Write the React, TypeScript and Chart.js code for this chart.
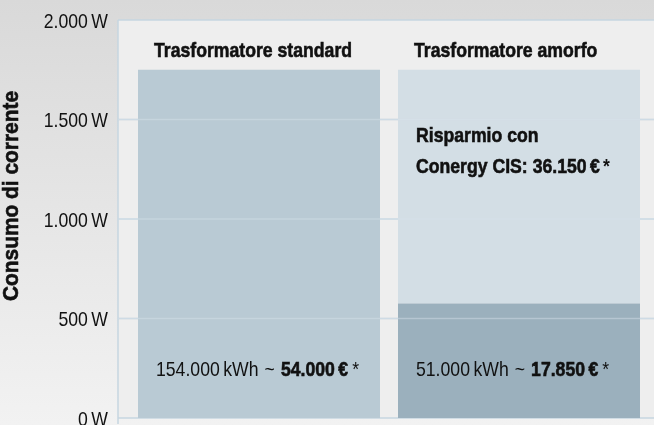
import React, { useEffect, useRef } from "react";
import { Chart, registerables } from "chart.js";

Chart.register(...registerables);

const categories = ["Trasformatore standard", "Trasformatore amorfo"];
const consumption = [1750, 575];
const savings = [0, 1175];
const energyLabels = ["154.000\u2009kWh", "51.000\u2009kWh"];
const costLabels = ["54.000\u2009€", "17.850\u2009€"];
const savingsLines = ["Risparmio con", "Conergy CIS: 36.150\u2009€"];
const yTicks = [0, 500, 1000, 1500, 2000];
const yTickLabels = ["0\u2009W", "500\u2009W", "1.000\u2009W", "1.500\u2009W", "2.000\u2009W"];
const yTitle = "Consumo di corrente";

const FONT = "'Liberation Sans', Arial, sans-serif";
const SX = 0.84;
const PLOT_LEFT = 118;
const GRID = "#c6d6e0";

function drawText(ctx: any, text: string, x: number, y: number, font: string, align: string, sx = SX, heavy = false) {
  ctx.save();
  ctx.font = font;
  ctx.textAlign = align;
  ctx.translate(x, y);
  ctx.scale(sx, 1);
  ctx.fillText(text, 0, 0);
  if (heavy) {
    ctx.strokeStyle = ctx.fillStyle;
    ctx.lineWidth = 0.6;
    ctx.strokeText(text, 0, 0);
  }
  const w = ctx.measureText(text).width * sx;
  ctx.restore();
  return w;
}

export default function App() {
  const ref = useRef<HTMLCanvasElement | null>(null);

  useEffect(() => {
    document.body.style.margin = "0";
    const canvas = ref.current;
    if (!canvas) return;

    const decor = {
      id: "decor",
      beforeDraw(chart: any) {
        const { ctx, width, height, chartArea, scales } = chart;
        ctx.save();
        const g = ctx.createLinearGradient(0, 0, 0, height);
        g.addColorStop(0, "#d9d9d9");
        g.addColorStop(1, "#f2f2f2");
        ctx.fillStyle = g;
        ctx.fillRect(0, 0, width, height);
        ctx.fillStyle = "#eeeeee";
        ctx.fillRect(PLOT_LEFT, chartArea.top, width - PLOT_LEFT, chartArea.bottom - chartArea.top);
        ctx.strokeStyle = GRID;
        ctx.lineWidth = 1.5;
        yTicks.forEach((v) => {
          const y = scales.y.getPixelForValue(v);
          ctx.beginPath();
          ctx.moveTo(PLOT_LEFT, y);
          ctx.lineTo(width, y);
          ctx.stroke();
        });
        ctx.beginPath();
        ctx.moveTo(PLOT_LEFT, chartArea.top);
        ctx.lineTo(PLOT_LEFT, chartArea.bottom + 6);
        ctx.stroke();
        ctx.fillStyle = "#111";
        ctx.textBaseline = "middle";
        yTicks.forEach((v, i) => {
          const y = scales.y.getPixelForValue(v);
          drawText(ctx, yTickLabels[i], 108, y + 2, `21px ${FONT}`, "right");
        });
        ctx.translate(12, 196);
        ctx.rotate(-Math.PI / 2);
        drawText(ctx, yTitle, 0, 0, `bold 22px ${FONT}`, "center", 0.95, true);
        ctx.restore();
      },
      afterDatasetsDraw(chart: any) {
        const { ctx, width, scales } = chart;
        ctx.save();
        ctx.strokeStyle = "rgba(214,226,234,0.45)";
        ctx.lineWidth = 1.5;
        yTicks.slice(1, -1).forEach((v) => {
          const y = scales.y.getPixelForValue(v);
          ctx.beginPath();
          ctx.moveTo(PLOT_LEFT, y);
          ctx.lineTo(width, y);
          ctx.stroke();
        });
        const meta0 = chart.getDatasetMeta(0);
        ctx.fillStyle = "#111";
        ctx.textBaseline = "alphabetic";
        const reg = `21px ${FONT}`;
        const bold = `bold 21px ${FONT}`;
        meta0.data.forEach((bar: any, i: number) => {
          const left = bar.x - bar.width / 2 + 18;
          drawText(ctx, categories[i], left - 2, 57, bold, "left", SX, true);
          let x = left;
          const y = 376;
          x += drawText(ctx, energyLabels[i], x, y, reg, "left") + 6;
          x += drawText(ctx, "~", x, y, reg, "left") + 6;
          x += drawText(ctx, costLabels[i], x, y, bold, "left", SX, true) + 4;
          drawText(ctx, "*", x, y, reg, "left");
          if (savings[i] > 0) {
            drawText(ctx, savingsLines[0], left, 142, bold, "left", SX, true);
            const w = drawText(ctx, savingsLines[1], left, 173, bold, "left", SX, true);
            drawText(ctx, "*", left + w + 3, 173, bold, "left");
          }
        });
        ctx.restore();
      },
    };

    const chart = new Chart(canvas, {
      type: "bar",
      data: {
        labels: categories,
        datasets: [
          {
            label: "Consumo",
            data: consumption,
            backgroundColor: ["#b9cad4", "#9bb0bd"],
            borderWidth: 0,
            barPercentage: 1,
            categoryPercentage: 242 / 260,
          },
          {
            label: "Risparmio",
            data: savings,
            backgroundColor: "#d3dee5",
            borderWidth: 0,
            barPercentage: 1,
            categoryPercentage: 242 / 260,
          },
        ],
      },
      options: {
        animation: false,
        responsive: false,
        maintainAspectRatio: false,
        layout: { padding: { top: 20, bottom: 7, right: 5, left: 0 } },
        plugins: { legend: { display: false }, tooltip: { enabled: false } },
        scales: {
          x: { stacked: true, display: false },
          y: {
            stacked: true,
            min: 0,
            max: 2000,
            afterFit: (s: any) => {
              s.width = 129;
              s.paddingTop = 0;
              s.paddingBottom = 0;
            },
            afterBuildTicks: (s: any) => {
              s.ticks = yTicks.map((v) => ({ value: v }));
            },
            grid: { display: false, drawTicks: false },
            border: { display: false },
            ticks: { display: false },
          },
        },
      },
      plugins: [decor],
    } as any);
    return () => chart.destroy();
  }, []);

  return (
    <div style={{ width: 654, height: 425 }}>
      <canvas ref={ref} width={654} height={425} style={{ display: "block" }} />
    </div>
  );
}
